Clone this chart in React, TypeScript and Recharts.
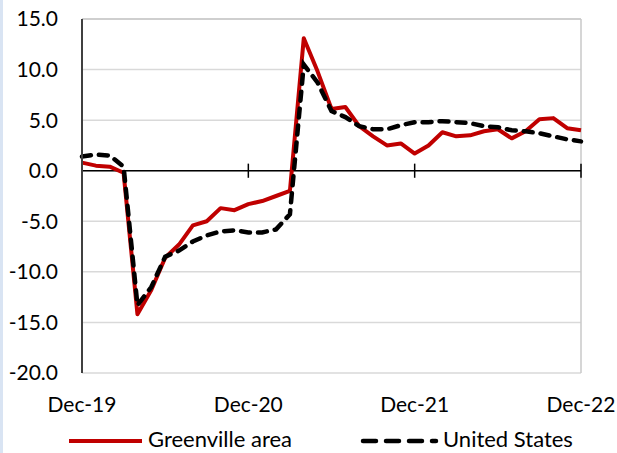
import {
  CartesianGrid,
  Legend,
  Line,
  LineChart,
  ReferenceLine,
  XAxis,
  YAxis,
} from "recharts";

const months = [
  "Dec-19", "Jan-20", "Feb-20", "Mar-20", "Apr-20", "May-20", "Jun-20", "Jul-20", "Aug-20", "Sep-20", "Oct-20", "Nov-20",
  "Dec-20", "Jan-21", "Feb-21", "Mar-21", "Apr-21", "May-21", "Jun-21", "Jul-21", "Aug-21", "Sep-21", "Oct-21", "Nov-21",
  "Dec-21", "Jan-22", "Feb-22", "Mar-22", "Apr-22", "May-22", "Jun-22", "Jul-22", "Aug-22", "Sep-22", "Oct-22", "Nov-22",
  "Dec-22",
];

const greenville = [
  0.8, 0.5, 0.4, -0.2, -14.2, -11.8, -8.6, -7.3, -5.4, -5.0, -3.7, -3.9,
  -3.3, -3.0, -2.5, -2.0, 13.1, 9.8, 6.1, 6.3, 4.4, 3.4, 2.5, 2.7,
  1.7, 2.5, 3.8, 3.4, 3.5, 3.9, 4.1, 3.2, 3.9, 5.1, 5.2, 4.2,
  4.0,
];

const unitedStates = [
  1.4, 1.6, 1.5, 0.4, -13.3, -11.5, -8.5, -7.9, -7.0, -6.4, -6.0, -5.9,
  -6.1, -6.1, -5.8, -4.3, 10.5, 8.7, 5.9, 5.3, 4.4, 4.1, 4.1, 4.5,
  4.8, 4.8, 4.9, 4.8, 4.7, 4.4, 4.3, 4.0, 3.9, 3.7, 3.4, 3.1,
  2.9,
];

const xTicks = ["Dec-19", "Dec-20", "Dec-21", "Dec-22"];
const yTicks = [-20, -15, -10, -5, 0, 5, 10, 15];

const RED = "#c00000";
const FONT = "Lato, 'Open Sans', sans-serif";

const data = months.map((m, i) => ({
  month: m,
  greenville: greenville[i],
  us: unitedStates[i],
}));

function ChartLegend() {
  return (
    <div style={{ position: "relative", height: 40, fontFamily: FONT, fontSize: 22, color: "#000" }}>
      <svg width={80} height={10} style={{ position: "absolute", left: 66, top: 23 }}>
        <line x1={3} y1={5} x2={76} y2={5} stroke={RED} strokeWidth={4} />
      </svg>
      <span style={{ position: "absolute", left: 148, top: 14, lineHeight: "24px" }}>Greenville area</span>
      <svg width={82} height={10} style={{ position: "absolute", left: 358, top: 23 }}>
        <line
          x1={5}
          y1={5}
          x2={78}
          y2={5}
          stroke="#000"
          strokeWidth={4.5}
          strokeDasharray="13 10"
          strokeLinecap="round"
        />
      </svg>
      <span style={{ position: "absolute", left: 443, top: 14, lineHeight: "24px" }}>United States</span>
    </div>
  );
}

export default function App() {
  return (
    <div style={{ position: "absolute", left: 0, top: 0, width: 617, height: 453, background: "#fff" }}>
      <div style={{ position: "absolute", left: 0, top: 0, width: 3, height: 453, background: "#d9e4f3" }} />
      <LineChart
        width={617}
        height={453}
        data={data}
        margin={{ top: 19, right: 36, bottom: 0, left: 0 }}
      >
        <CartesianGrid vertical={false} stroke="#d9d9d9" strokeWidth={1.5} />
        <XAxis
          dataKey="month"
          ticks={xTicks}
          interval={0}
          axisLine={false}
          tickLine={false}
          tickMargin={18}
          height={40}
          tick={{ fill: "#000", fontSize: 21, fontFamily: FONT }}
        />
        <YAxis
          domain={[-20, 15]}
          ticks={yTicks}
          width={82}
          tickLine={false}
          tickMargin={18}
          axisLine={{ stroke: "#404040", strokeWidth: 2 }}
          tickFormatter={(v: number) => v.toFixed(1)}
          tick={{ fill: "#000", fontSize: 21, fontFamily: FONT }}
        />
        <ReferenceLine y={15} stroke="#c8c8c8" strokeWidth={1.5} />
        <ReferenceLine x="Dec-22" stroke="#c8c8c8" strokeWidth={1.5} />
        <ReferenceLine y={0} stroke="#000" strokeWidth={1.5} />
        {xTicks.slice(1).map((t) => (
          <ReferenceLine
            key={t}
            segment={[
              { x: t, y: -0.7 },
              { x: t, y: 0.7 },
            ]}
            stroke="#000"
            strokeWidth={1.5}
          />
        ))}
        <Line
          type="linear"
          dataKey="greenville"
          name="Greenville area"
          stroke={RED}
          strokeWidth={4}
          dot={false}
          strokeLinejoin="round"
          isAnimationActive={false}
        />
        <Line
          type="linear"
          dataKey="us"
          name="United States"
          stroke="#000"
          strokeWidth={4.5}
          strokeDasharray="9 8"
          strokeLinecap="round"
          dot={false}
          isAnimationActive={false}
        />
        <Legend verticalAlign="bottom" height={40} content={() => <ChartLegend />} />
      </LineChart>
    </div>
  );
}
